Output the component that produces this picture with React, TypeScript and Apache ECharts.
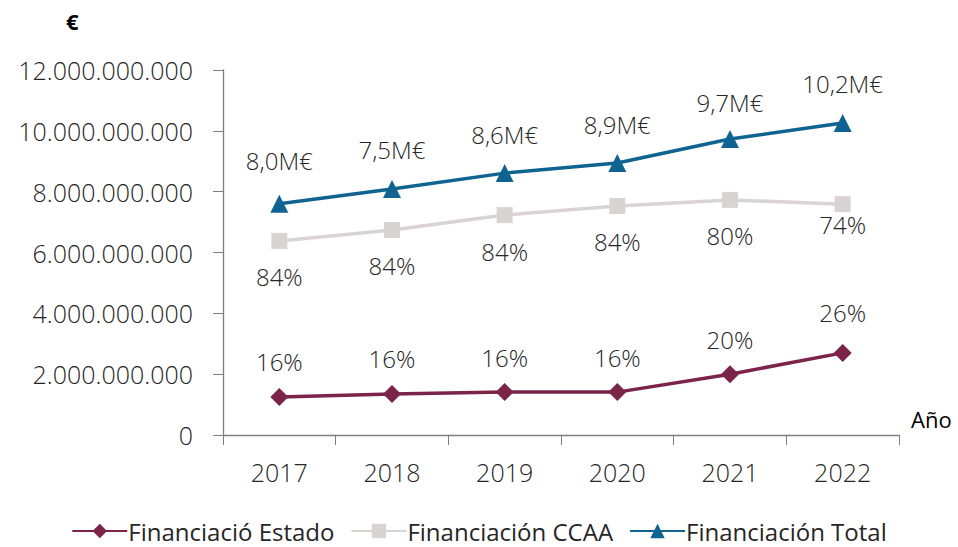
import React, { useEffect, useRef } from "react";
import * as echarts from "echarts";

const years = ["2017", "2018", "2019", "2020", "2021", "2022"];
const estado = [1.25e9, 1.35e9, 1.41e9, 1.41e9, 2.0e9, 2.7e9];
const ccaa = [6.38e9, 6.74e9, 7.23e9, 7.53e9, 7.73e9, 7.59e9];
const total = [7.6e9, 8.09e9, 8.61e9, 8.94e9, 9.73e9, 10.26e9];
const totalLabels = ["8,0M€", "7,5M€", "8,6M€", "8,9M€", "9,7M€", "10,2M€"];
const ccaaLabels = ["84%", "84%", "84%", "84%", "80%", "74%"];
const estadoLabels = ["16%", "16%", "16%", "16%", "20%", "26%"];
const totalLabelShift = [-4, 0, 0, 0, 2, 0];
const ccaaLabelShift = [0, 0, 0, 0, 0, -16];
const estadoLabelShift = [0, 0, 0, 0, 0, -5];

const FONT = "'Open Sans', sans-serif";
const TXT = "#262626";

function fmt(v: number) {
  if (v === 0) return "0";
  return String(Math.round(v)).replace(/\B(?=(\d{3})+(?!\d))/g, ".");
}

export default function App() {
  const ref = useRef<HTMLDivElement>(null);
  useEffect(() => {
    if (!ref.current) return;
    const chart = echarts.init(ref.current, undefined, { renderer: "svg" });
    const mk = (vals: number[], labels: string[], shift: number[]) =>
      vals.map((v, i) => ({
        value: v,
        label: { formatter: labels[i], offset: [0, shift[i]] },
      }));
    const labelStyle = {
      show: true,
      fontFamily: FONT,
      fontSize: 24,
      fontWeight: 300 as any,
      color: TXT,
    };
    chart.setOption({
      animation: false,
      backgroundColor: "#fff",
      textStyle: { fontFamily: FONT },
      grid: { left: 223, right: 59, top: 70, bottom: 112 },
      graphic: [
        {
          type: "text",
          left: 66,
          top: 10,
          style: { text: "€", fontFamily: FONT, fontSize: 22, fontWeight: "bold", fill: "#000" },
        },
        {
          type: "text",
          left: 911,
          top: 408,
          style: { text: "Año", fontFamily: FONT, fontSize: 22, fill: "#000" },
        },
      ],
      legend: {
        bottom: 4,
        padding: 0,
        left: "center",
        itemWidth: 55,
        itemHeight: 18,
        itemGap: 16,
        textStyle: { fontFamily: FONT, fontSize: 24, lineHeight: 24, color: TXT, padding: [0, 0, 0, -4] },
        data: ["Financiació Estado", "Financiación CCAA", "Financiación Total"],
      },
      xAxis: {
        type: "category",
        data: years,
        boundaryGap: true,
        axisLine: { lineStyle: { color: "#7f7f7f", width: 1.3 } },
        axisTick: { show: true, inside: false, length: 10, lineStyle: { color: "#7f7f7f" } },
        axisLabel: { fontFamily: FONT, fontSize: 25, fontWeight: 300, color: TXT, margin: 24 },
        splitLine: { show: false },
      },
      yAxis: {
        type: "value",
        min: 0,
        max: 12e9,
        interval: 2e9,
        axisLine: { show: true, lineStyle: { color: "#7f7f7f", width: 1.3 } },
        axisTick: { show: true, inside: false, length: 10, lineStyle: { color: "#7f7f7f" } },
        axisLabel: { fontFamily: FONT, fontSize: 25, fontWeight: 300, color: TXT, margin: 30, formatter: fmt },
        splitLine: { show: false },
      },
      series: [
        {
          name: "Financiació Estado",
          type: "line",
          data: mk(estado, estadoLabels, estadoLabelShift),
          symbol: "diamond",
          symbolSize: 18,
          color: "#7b2349",
          lineStyle: { width: 3.5, color: "#7b2349" },
          label: { ...labelStyle, position: "top", distance: 14 },
        },
        {
          name: "Financiación CCAA",
          type: "line",
          data: mk(ccaa, ccaaLabels, ccaaLabelShift),
          symbol: "rect",
          symbolSize: 16,
          color: "#d9d4d2",
          lineStyle: { width: 3.5, color: "#d9d4d2" },
          label: { ...labelStyle, position: "bottom", distance: 16 },
        },
        {
          name: "Financiación Total",
          type: "line",
          data: mk(total, totalLabels, totalLabelShift),
          symbol: "triangle",
          symbolSize: 18,
          color: "#0e6391",
          lineStyle: { width: 3.5, color: "#0e6391" },
          label: { ...labelStyle, position: "top", distance: 18 },
        },
      ],
    });
    return () => chart.dispose();
  }, []);
  return (
    <div
      ref={ref}
      style={{ position: "absolute", left: 0, top: 0, width: 958, height: 547 }}
    />
  );
}
